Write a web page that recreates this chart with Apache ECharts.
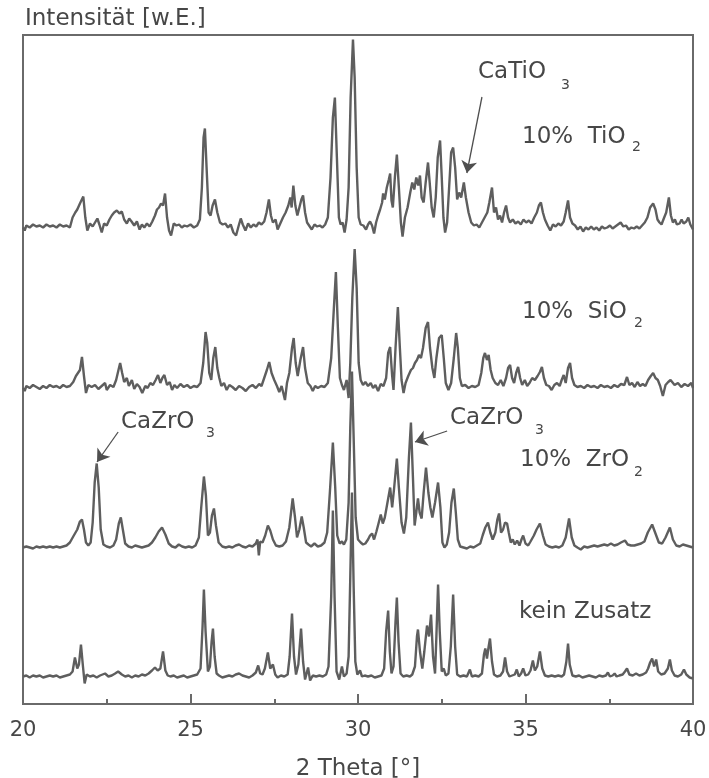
<!DOCTYPE html>
<html>
<head>
<meta charset="utf-8">
<style>
  html, body { margin: 0; padding: 0; background: #fff; }
  #chart { width: 709px; height: 778px; }
</style>
<script src="https://cdn.jsdelivr.net/npm/echarts@6/dist/echarts.min.js"></script>
</head>
<body>
<div id="chart"></div>
<script>
// X-ray powder diffraction patterns, 2 Theta [°] vs. intensity (arbitrary units above each baseline)

const tickLabels = ['20', '25', '30', '35', '40'];

// Pattern without additive
const keinZusatz = [
  [20.0,0],[20.1,1],[20.2,-1],[20.3,1],[20.4,0],[20.5,1],[20.6,-1],[20.7,0],[20.8,1],[20.9,0],[21.0,1],[21.1,-1],[21.2,0],[21.3,1],[21.4,2],
  [21.48,5],[21.55,19],[21.62,8],[21.67,12],[21.73,32],[21.79,10],[21.84,-7],[21.9,2],[22.0,0],[22.1,1],[22.2,-1],[22.3,1],[22.45,3],[22.55,0],
  [22.65,1],[22.75,3],[22.84,5],[22.95,2],[23.05,0],[23.15,1],[23.25,-1],[23.35,1],[23.45,0],[23.55,2],[23.65,1],[23.75,3],[23.85,6],[23.94,9],
  [24.02,6],[24.1,8],[24.18,25],[24.25,6],[24.32,1],[24.4,0],[24.5,1],[24.6,-1],[24.7,0],[24.8,1],[24.9,-1],[25.0,0],[25.1,1],[25.2,2],[25.3,8],
  [25.36,50],[25.40,87],[25.45,45],[25.52,5],[25.58,10],[25.63,35],[25.67,48],[25.72,20],[25.78,3],[25.85,1],[25.95,-1],[26.05,0],[26.15,1],
  [26.25,0],[26.35,2],[26.45,3],[26.55,1],[26.65,0],[26.75,-1],[26.85,1],[26.95,4],[27.02,11],[27.08,3],[27.15,2],[27.22,8],[27.31,24],[27.38,8],
  [27.46,12],[27.53,2],[27.6,-1],[27.7,1],[27.8,0],[27.9,2],[27.96,20],[28.03,63],[28.09,20],[28.15,2],[28.22,12],[28.30,48],[28.36,15],[28.42,-3],
  [28.51,9],[28.57,-4],[28.65,1],[28.75,0],[28.85,1],[28.95,0],[29.05,2],[29.12,10],[29.2,80],[29.25,166],[29.3,80],[29.36,5],[29.44,-3],[29.52,10],
  [29.58,0],[29.66,3],[29.72,20],[29.77,100],[29.82,184],[29.87,90],[29.92,15],[29.98,2],[30.06,6],[30.12,0],[30.2,1],[30.3,0],[30.4,1],[30.5,-1],
  [30.6,0],[30.7,1],[30.78,8],[30.84,45],[30.9,66],[30.95,25],[31.0,3],[31.06,10],[31.12,55],[31.16,79],[31.21,35],[31.27,3],[31.35,0],[31.45,1],
  [31.55,0],[31.62,2],[31.7,10],[31.76,40],[31.79,47],[31.85,25],[31.92,8],[31.98,25],[32.06,51],[32.12,40],[32.18,62],[32.24,20],[32.3,3],
  [32.34,40],[32.39,92],[32.44,45],[32.5,5],[32.56,8],[32.62,1],[32.7,3],[32.77,30],[32.84,82],[32.9,30],[32.96,2],[33.05,0],[33.15,1],[33.25,0],
  [33.34,7],[33.4,0],[33.5,1],[33.6,0],[33.7,3],[33.76,22],[33.8,28],[33.85,18],[33.9,30],[33.94,38],[34.0,15],[34.06,2],[34.15,0],[34.25,1],
  [34.33,5],[34.39,19],[34.45,5],[34.52,0],[34.6,1],[34.68,2],[34.74,7],[34.8,0],[34.87,3],[34.93,8],[35.0,1],[35.08,2],[35.15,6],[35.22,16],
  [35.28,6],[35.35,10],[35.43,25],[35.5,8],[35.58,1],[35.68,0],[35.78,1],[35.88,0],[35.98,1],[36.08,0],[36.15,2],[36.22,15],[36.27,33],[36.32,12],
  [36.4,1],[36.5,0],[36.6,1],[36.7,-1],[36.8,0],[36.9,1],[37.0,0],[37.1,-1],[37.2,1],[37.3,0],[37.4,1],[37.46,4],[37.52,0],[37.6,1],[37.66,3],
  [37.72,0],[37.8,1],[37.9,2],[37.97,5],[38.03,8],[38.1,2],[38.2,1],[38.3,3],[38.4,1],[38.5,2],[38.6,4],[38.66,8],[38.72,14],[38.78,18],[38.84,10],
  [38.9,17],[38.96,5],[39.05,2],[39.15,3],[39.25,8],[39.31,17],[39.37,6],[39.45,1],[39.55,0],[39.65,2],[39.73,7],[39.8,2],[39.9,-1],[40.0,-2]
];

// Pattern with 10% ZrO2
const zrO2 = [
  [20.0,0],[20.1,1],[20.2,0],[20.3,-1],[20.4,1],[20.5,0],[20.6,1],[20.7,0],[20.8,1],[20.9,0],[21.0,1],[21.1,0],[21.2,1],[21.3,2],[21.4,5],
  [21.5,11],[21.55,13],[21.62,18],[21.7,26],[21.76,28],[21.82,18],[21.88,5],[21.95,2],[22.02,5],[22.08,25],[22.14,65],[22.2,84],[22.26,60],
  [22.32,18],[22.4,3],[22.5,1],[22.6,0],[22.7,2],[22.78,8],[22.86,24],[22.92,30],[22.98,18],[23.05,4],[23.15,1],[23.25,0],[23.35,2],[23.45,1],
  [23.55,0],[23.65,1],[23.75,2],[23.85,5],[23.95,10],[24.05,16],[24.15,20],[24.25,13],[24.35,4],[24.45,1],[24.55,0],[24.65,3],[24.75,1],[24.85,0],
  [24.95,1],[25.05,0],[25.15,2],[25.25,10],[25.32,40],[25.4,71],[25.46,52],[25.52,12],[25.58,15],[25.64,32],[25.7,39],[25.76,22],[25.84,5],
  [25.95,1],[26.05,0],[26.15,1],[26.25,0],[26.35,2],[26.45,3],[26.55,1],[26.65,0],[26.75,2],[26.85,1],[26.95,4],[27.0,8],[27.04,-8],[27.08,6],
  [27.15,5],[27.23,12],[27.31,22],[27.38,17],[27.46,8],[27.55,2],[27.65,1],[27.75,2],[27.85,6],[27.95,20],[28.05,49],[28.12,30],[28.18,10],
  [28.25,18],[28.32,31],[28.38,20],[28.45,5],[28.52,3],[28.6,1],[28.7,4],[28.8,1],[28.9,2],[29.0,5],[29.08,15],[29.16,55],[29.25,105],[29.32,60],
  [29.38,12],[29.45,4],[29.52,6],[29.58,3],[29.65,8],[29.72,45],[29.77,120],[29.82,176],[29.87,110],[29.93,30],[30.0,8],[30.08,5],[30.15,3],
  [30.22,4],[30.3,8],[30.36,12],[30.42,14],[30.48,8],[30.55,16],[30.62,25],[30.68,33],[30.74,24],[30.8,30],[30.88,45],[30.96,60],[31.02,40],
  [31.08,60],[31.16,89],[31.22,60],[31.3,25],[31.37,14],[31.44,30],[31.52,90],[31.58,125],[31.64,70],[31.69,22],[31.74,35],[31.79,49],[31.84,35],
  [31.9,29],[31.96,55],[32.03,80],[32.1,55],[32.16,40],[32.22,30],[32.3,45],[32.39,65],[32.46,40],[32.52,5],[32.58,0],[32.65,3],[32.72,15],
  [32.79,45],[32.86,59],[32.92,35],[32.98,8],[33.05,1],[33.15,0],[33.25,-1],[33.35,1],[33.45,0],[33.55,2],[33.65,4],[33.72,12],[33.8,20],
  [33.88,25],[33.95,15],[34.02,8],[34.1,15],[34.16,28],[34.21,34],[34.27,15],[34.33,18],[34.39,25],[34.45,24],[34.5,15],[34.56,5],[34.62,8],
  [34.68,3],[34.75,7],[34.82,2],[34.88,8],[34.93,12],[35.0,4],[35.08,2],[35.15,6],[35.25,12],[35.33,18],[35.43,24],[35.52,12],[35.6,3],[35.7,1],
  [35.8,0],[35.9,1],[36.0,0],[36.1,2],[36.2,10],[36.3,29],[36.38,10],[36.46,2],[36.55,0],[36.65,-2],[36.75,1],[36.85,0],[36.95,1],[37.05,2],
  [37.15,1],[37.25,2],[37.35,3],[37.45,2],[37.55,4],[37.65,2],[37.75,3],[37.85,5],[37.97,7],[38.05,3],[38.15,2],[38.25,2],[38.35,3],[38.45,4],
  [38.55,6],[38.65,15],[38.78,23],[38.88,14],[38.98,5],[39.08,4],[39.18,10],[39.31,20],[39.4,8],[39.5,2],[39.6,1],[39.7,3],[39.8,2],[39.9,1],[40.0,0]
];

// Pattern with 10% SiO2
const siO2 = [
  [20.0,0],[20.05,-3],[20.1,2],[20.2,0],[20.3,3],[20.4,1],[20.5,-1],[20.6,2],[20.7,0],[20.8,3],[20.9,1],[21.0,2],[21.1,0],[21.2,3],[21.3,1],
  [21.4,2],[21.5,6],[21.58,12],[21.64,15],[21.7,18],[21.76,31],[21.82,12],[21.88,-5],[21.95,3],[22.05,1],[22.15,3],[22.25,-1],[22.35,2],[22.45,5],
  [22.5,-2],[22.6,3],[22.7,1],[22.78,8],[22.85,18],[22.9,25],[22.96,15],[23.02,6],[23.1,10],[23.16,2],[23.25,8],[23.32,-1],[23.4,4],[23.48,1],
  [23.56,-5],[23.65,2],[23.72,0],[23.8,5],[23.88,3],[23.96,8],[24.03,13],[24.1,5],[24.16,10],[24.22,13],[24.3,3],[24.38,6],[24.45,-2],[24.52,3],
  [24.6,0],[24.7,4],[24.8,1],[24.9,3],[25.0,0],[25.1,2],[25.2,1],[25.3,5],[25.38,25],[25.45,56],[25.5,45],[25.56,15],[25.62,8],[25.68,30],
  [25.74,41],[25.8,20],[25.86,10],[25.92,2],[26.0,5],[26.08,-2],[26.16,3],[26.25,1],[26.35,-2],[26.45,2],[26.55,0],[26.65,-3],[26.75,1],[26.85,3],
  [26.95,0],[27.05,4],[27.12,2],[27.2,10],[27.28,18],[27.35,26],[27.42,15],[27.5,8],[27.58,2],[27.65,-4],[27.72,2],[27.82,-12],[27.88,5],[27.95,15],
  [28.03,40],[28.08,50],[28.14,25],[28.2,12],[28.28,28],[28.36,41],[28.42,20],[28.5,5],[28.58,2],[28.65,-3],[28.72,2],[28.8,0],[28.9,2],[29.0,1],
  [29.1,5],[29.2,30],[29.28,80],[29.34,116],[29.4,60],[29.46,10],[29.52,3],[29.58,-2],[29.66,8],[29.72,-10],[29.77,25],[29.83,90],[29.9,139],
  [29.96,100],[30.02,25],[30.08,8],[30.15,3],[30.22,6],[30.3,2],[30.38,5],[30.45,0],[30.52,3],[30.6,-3],[30.68,4],[30.76,2],[30.84,10],[30.9,35],
  [30.96,41],[31.02,12],[31.06,-2],[31.12,40],[31.19,81],[31.25,40],[31.3,8],[31.36,-5],[31.42,5],[31.5,12],[31.58,18],[31.64,20],[31.7,25],
  [31.76,28],[31.82,33],[31.88,30],[31.94,40],[32.02,60],[32.09,66],[32.15,40],[32.22,20],[32.28,10],[32.34,30],[32.42,50],[32.5,53],[32.56,30],
  [32.62,5],[32.7,-2],[32.78,5],[32.86,30],[32.93,55],[32.98,40],[33.04,10],[33.1,2],[33.2,3],[33.3,0],[33.4,2],[33.5,1],[33.6,3],[33.68,15],
  [33.74,30],[33.79,35],[33.85,28],[33.9,33],[33.96,18],[34.02,10],[34.1,5],[34.18,3],[34.26,8],[34.34,2],[34.42,10],[34.48,20],[34.54,23],
  [34.6,10],[34.66,5],[34.72,15],[34.78,21],[34.84,10],[34.9,3],[34.98,8],[35.05,2],[35.12,5],[35.2,10],[35.28,8],[35.36,12],[35.43,16],
  [35.49,21],[35.55,10],[35.62,3],[35.7,2],[35.78,-2],[35.86,3],[35.94,5],[36.02,2],[36.08,8],[36.14,13],[36.2,5],[36.27,20],[36.33,25],
  [36.39,10],[36.46,3],[36.55,1],[36.65,2],[36.75,0],[36.85,3],[36.95,1],[37.05,2],[37.15,0],[37.25,3],[37.35,1],[37.45,2],[37.55,0],[37.65,3],
  [37.75,1],[37.85,4],[37.95,3],[38.03,11],[38.1,3],[38.18,5],[38.26,1],[38.34,6],[38.42,2],[38.5,4],[38.58,2],[38.66,8],[38.74,12],[38.81,15],
  [38.88,10],[38.95,8],[39.02,2],[39.1,-8],[39.18,3],[39.26,6],[39.33,8],[39.37,10],[39.45,3],[39.55,5],[39.65,1],[39.75,4],[39.85,2],[39.95,5],[40.0,0]
];

// Pattern with 10% TiO2
const tiO2 = [
  [20.0,0],[20.05,-3],[20.1,2],[20.2,0],[20.3,3],[20.4,1],[20.5,2],[20.6,0],[20.7,3],[20.8,1],[20.9,2],[21.0,0],[21.1,3],[21.2,1],[21.3,2],
  [21.4,0],[21.48,10],[21.56,15],[21.62,18],[21.7,24],[21.75,22],[21.8,31],[21.86,10],[21.92,-3],[22.0,4],[22.08,1],[22.15,5],[22.22,9],[22.28,3],
  [22.35,-5],[22.42,4],[22.5,2],[22.58,8],[22.65,12],[22.72,15],[22.8,17],[22.88,14],[22.95,16],[23.02,8],[23.1,4],[23.17,9],[23.24,6],[23.32,2],
  [23.4,6],[23.48,-2],[23.55,3],[23.62,0],[23.7,4],[23.78,1],[23.86,6],[23.94,12],[24.0,18],[24.06,20],[24.12,24],[24.18,22],[24.24,34],[24.3,10],
  [24.36,-3],[24.42,-8],[24.5,4],[24.58,2],[24.66,3],[24.74,0],[24.82,2],[24.9,1],[25.0,3],[25.1,0],[25.2,2],[25.28,8],[25.34,40],[25.39,90],
  [25.43,99],[25.48,60],[25.54,15],[25.6,12],[25.66,22],[25.73,28],[25.8,15],[25.88,5],[25.96,3],[26.04,4],[26.12,0],[26.2,3],[26.28,-5],
  [26.36,-8],[26.44,2],[26.5,9],[26.56,3],[26.64,-3],[26.72,4],[26.8,0],[26.88,3],[26.96,1],[27.04,5],[27.12,3],[27.2,6],[27.27,15],[27.34,28],
  [27.4,12],[27.46,5],[27.54,8],[27.6,-2],[27.68,4],[27.76,10],[27.84,15],[27.92,22],[27.98,30],[28.02,20],[28.07,42],[28.13,22],[28.19,12],
  [28.25,20],[28.31,28],[28.36,32],[28.42,15],[28.48,5],[28.54,2],[28.62,-2],[28.7,3],[28.78,1],[28.86,2],[28.94,0],[29.02,3],[29.1,10],[29.18,50],
  [29.25,110],[29.31,130],[29.37,70],[29.43,10],[29.48,3],[29.54,5],[29.6,-5],[29.66,8],[29.72,40],[29.78,130],[29.85,188],[29.9,150],[29.96,60],
  [30.02,10],[30.08,3],[30.16,2],[30.24,-2],[30.3,3],[30.36,6],[30.42,2],[30.48,-6],[30.54,5],[30.6,12],[30.66,18],[30.72,25],[30.75,34],[30.8,28],
  [30.86,40],[30.92,48],[30.96,54],[31.0,27],[31.04,20],[31.1,50],[31.16,73],[31.22,40],[31.28,5],[31.33,-9],[31.4,10],[31.48,20],[31.56,35],
  [31.62,45],[31.68,38],[31.74,50],[31.8,42],[31.85,52],[31.9,30],[31.96,25],[32.02,45],[32.09,65],[32.14,45],[32.2,20],[32.26,10],[32.32,30],
  [32.38,70],[32.45,87],[32.5,50],[32.55,10],[32.6,-5],[32.66,5],[32.72,40],[32.78,75],[32.84,80],[32.9,60],[32.96,28],[33.02,35],[33.08,30],
  [33.16,45],[33.22,30],[33.3,15],[33.38,5],[33.46,2],[33.54,3],[33.62,0],[33.7,5],[33.78,10],[33.86,15],[33.92,25],[34.0,40],[34.06,15],[34.12,20],
  [34.18,8],[34.24,12],[34.3,5],[34.36,15],[34.42,22],[34.48,10],[34.54,5],[34.62,8],[34.7,4],[34.78,6],[34.86,3],[34.94,8],[35.02,5],[35.1,7],
  [35.18,4],[35.26,10],[35.34,15],[35.4,22],[35.46,25],[35.52,15],[35.58,8],[35.66,2],[35.74,-3],[35.82,3],[35.9,1],[35.98,4],[36.06,2],[36.14,6],
  [36.2,15],[36.27,27],[36.33,10],[36.4,4],[36.48,2],[36.56,-2],[36.64,1],[36.72,-4],[36.8,0],[36.88,-2],[36.96,1],[37.04,-2],[37.12,0],[37.2,-3],
  [37.28,1],[37.36,-1],[37.44,0],[37.52,2],[37.6,-1],[37.68,1],[37.76,3],[37.84,5],[37.92,1],[38.0,2],[38.08,-2],[38.16,0],[38.24,-1],[38.32,1],
  [38.4,-1],[38.48,2],[38.56,5],[38.64,10],[38.72,20],[38.81,24],[38.88,18],[38.94,8],[39.0,5],[39.06,3],[39.14,10],[39.2,15],[39.28,30],
  [39.34,12],[39.4,5],[39.46,8],[39.52,3],[39.6,4],[39.66,8],[39.72,4],[39.8,6],[39.86,10],[39.92,3],[40.0,-2]
];

// Vertical offsets that stack the patterns above one another
const offsets = { kein: 27.5, zr: 156.5, si: 316, ti: 476.5 };

const LINE = '#5e5e5e';
const TEXT = '#474747';
const FONT = '"DejaVu Sans", "Liberation Sans", sans-serif';

function shift(arr, off) { return arr.map(p => [p[0], p[1] + off]); }

const arrowStyle = { color: '#4f4f4f', width: 1.3, type: 'solid' };

function arrows(pairs) {
  return {
    silent: true, animation: false,
    symbol: ['none', 'arrow'], symbolSize: 12,
    label: { show: false },
    lineStyle: arrowStyle,
    emphasis: { disabled: true },
    data: pairs.map(p => [{ coord: p[0] }, { coord: p[1] }])
  };
}

function lineSeries(name, data, off, mark) {
  const s = {
    name, type: 'line', data: shift(data, off),
    showSymbol: false, symbol: 'none', smooth: false,
    lineStyle: { color: LINE, width: 2.4 },
    silent: true, animation: false, z: 2
  };
  if (mark) s.markLine = mark;
  return s;
}

function txt(x, y, text, size) {
  return { type: 'text', x, y, silent: true,
    style: { text, fontSize: size, fontFamily: FONT, fill: TEXT, verticalAlign: 'middle' } };
}

const chart = echarts.init(document.getElementById('chart'), null, { renderer: 'canvas' });

chart.setOption({
  backgroundColor: '#ffffff',
  animation: false,
  grid: {
    left: 23, right: 16, top: 35, bottom: 74,
    outerBoundsMode: 'none', containLabel: false,
    show: true, borderColor: '#6a6a6a', borderWidth: 2, backgroundColor: 'transparent'
  },
  xAxis: {
    type: 'value', min: 20, max: 40, interval: 5,
    name: '2 Theta [°]', nameLocation: 'middle', nameGap: 54,
    nameTextStyle: { fontSize: 23, fontFamily: FONT, color: TEXT },
    axisLine: { show: true, lineStyle: { color: '#6a6a6a', width: 2 } },
    axisTick: { show: true, inside: true, length: 10, lineStyle: { color: '#6a6a6a', width: 2 } },
    minorTick: { show: true, splitNumber: 2, length: 5, lineStyle: { color: '#6a6a6a', width: 2 } },
    splitLine: { show: false },
    axisLabel: {
      fontSize: 21, fontFamily: FONT, color: TEXT, margin: 16,
      formatter: v => tickLabels[Math.round((v - 20) / 5)] || ''
    }
  },
  yAxis: {
    type: 'value', min: 0, max: 669,
    axisLine: { show: false }, axisTick: { show: false }, axisLabel: { show: false }, splitLine: { show: false }
  },
  series: [
    lineSeries('kein Zusatz', keinZusatz, offsets.kein),
    lineSeries('10% ZrO2', zrO2, offsets.zr, arrows([
      [[22.84, 272], [22.21, 242]],
      [[32.66, 273], [31.70, 262]]
    ])),
    lineSeries('10% SiO2', siO2, offsets.si),
    lineSeries('10% TiO2', tiO2, offsets.ti, arrows([[[33.70, 607], [33.25, 531]]]))
  ],
  graphic: [
    txt(25, 19, 'Intensität [w.E.]', 23),
    txt(478, 72, 'CaTiO', 23), txt(561, 85, '3', 14),
    txt(522, 137, '10%  TiO', 23), txt(632, 147, '2', 14),
    txt(522, 312, '10%  SiO', 23), txt(634, 323, '2', 14),
    txt(121, 422, 'CaZrO', 23), txt(206, 433, '3', 14),
    txt(450, 418, 'CaZrO', 23), txt(535, 430, '3', 14),
    txt(520, 460, '10%  ZrO', 23), txt(634, 472, '2', 14),
    txt(519, 612, 'kein Zusatz', 23)
  ]
});
</script>
</body>
</html>
